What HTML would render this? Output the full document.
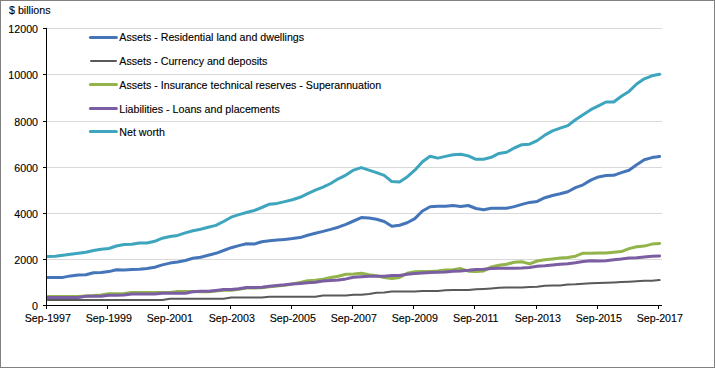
<!DOCTYPE html>
<html><head><meta charset="utf-8"><style>html,body{margin:0;padding:0;background:#fff;width:715px;height:368px;overflow:hidden}</style></head>
<body><svg width="715" height="368" viewBox="0 0 715 368" style="display:block"><rect x="0" y="0" width="715" height="368" fill="#fff"/><rect x="0.5" y="0.5" width="714" height="367" fill="none" stroke="#808080" stroke-width="1"/><line x1="47" y1="28.5" x2="662" y2="28.5" stroke="#d9d9d9" stroke-width="1"/><line x1="47" y1="74.5" x2="662" y2="74.5" stroke="#d9d9d9" stroke-width="1"/><line x1="47" y1="121.5" x2="662" y2="121.5" stroke="#d9d9d9" stroke-width="1"/><line x1="47" y1="167.5" x2="662" y2="167.5" stroke="#d9d9d9" stroke-width="1"/><line x1="47" y1="213.5" x2="662" y2="213.5" stroke="#d9d9d9" stroke-width="1"/><line x1="47" y1="259.5" x2="662" y2="259.5" stroke="#d9d9d9" stroke-width="1"/><defs><clipPath id="pa"><rect x="47" y="0" width="620" height="306"/></clipPath></defs><g clip-path="url(#pa)"><path d="M47.60,277.50 L55.25,277.50 L62.90,277.40 L70.55,275.90 L78.20,275.00 L85.85,274.80 L93.50,272.80 L101.15,272.50 L108.80,271.60 L116.45,269.70 L124.10,270.00 L131.75,269.50 L139.40,269.30 L147.05,268.40 L154.70,267.20 L162.35,264.90 L170.00,263.10 L177.65,262.00 L185.30,260.50 L192.95,258.30 L200.60,257.20 L208.25,255.30 L215.90,253.30 L223.55,250.50 L231.20,247.70 L238.85,245.60 L246.50,243.70 L254.15,244.10 L261.80,241.80 L269.45,240.70 L277.10,240.10 L284.75,239.40 L292.40,238.60 L300.05,237.60 L307.70,235.20 L315.35,233.20 L323.00,231.40 L330.65,229.40 L338.30,227.20 L345.95,224.30 L353.60,221.00 L361.25,217.60 L368.90,218.10 L376.55,219.30 L384.20,221.50 L391.85,226.20 L399.50,225.30 L407.15,222.80 L414.80,218.60 L422.45,211.00 L430.10,206.80 L437.75,206.30 L445.40,206.30 L453.05,205.50 L460.70,206.50 L468.35,205.50 L476.00,208.50 L483.65,209.70 L491.30,208.20 L498.95,208.20 L506.60,208.30 L514.25,206.60 L521.90,204.40 L529.55,202.40 L537.20,201.40 L544.85,197.70 L552.50,195.50 L560.15,193.80 L567.80,191.80 L575.45,187.60 L583.10,184.80 L590.75,180.10 L598.40,176.90 L606.05,175.50 L613.70,175.30 L621.35,172.60 L629.00,170.20 L636.65,164.80 L644.30,159.80 L651.95,157.60 L659.60,156.40" fill="none" stroke="#4575b9" stroke-width="3" stroke-linejoin="round" stroke-linecap="round"/><path d="M47.60,300.00 L55.25,300.00 L62.90,300.00 L70.55,300.00 L78.20,300.00 L85.85,300.00 L93.50,300.00 L101.15,300.00 L108.80,300.00 L116.45,300.00 L124.10,300.00 L131.75,300.00 L139.40,300.00 L147.05,300.00 L154.70,300.00 L162.35,300.00 L170.00,298.70 L177.65,298.70 L185.30,298.70 L192.95,298.70 L200.60,298.70 L208.25,298.70 L215.90,298.70 L223.55,298.70 L231.20,297.60 L238.85,297.60 L246.50,297.60 L254.15,297.60 L261.80,297.60 L269.45,296.70 L277.10,296.70 L284.75,296.70 L292.40,296.70 L300.05,296.70 L307.70,296.70 L315.35,296.70 L323.00,295.60 L330.65,295.60 L338.30,295.60 L345.95,295.60 L353.60,294.80 L361.25,294.80 L368.90,293.90 L376.55,292.80 L384.20,292.40 L391.85,291.60 L399.50,291.60 L407.15,291.60 L414.80,291.40 L422.45,290.90 L430.10,290.90 L437.75,291.00 L445.40,290.20 L453.05,289.90 L460.70,289.90 L468.35,289.90 L476.00,289.30 L483.65,288.90 L491.30,288.40 L498.95,287.80 L506.60,287.50 L514.25,287.50 L521.90,287.60 L529.55,286.90 L537.20,286.70 L544.85,285.70 L552.50,285.50 L560.15,285.50 L567.80,284.50 L575.45,284.30 L583.10,283.70 L590.75,283.30 L598.40,283.00 L606.05,282.80 L613.70,282.50 L621.35,282.10 L629.00,281.70 L636.65,281.20 L644.30,280.80 L651.95,280.80 L659.60,280.10" fill="none" stroke="#595959" stroke-width="2" stroke-linejoin="round" stroke-linecap="round"/><path d="M47.60,296.60 L55.25,296.60 L62.90,296.60 L70.55,296.60 L78.20,296.60 L85.85,295.90 L93.50,295.50 L101.15,294.90 L108.80,293.80 L116.45,293.80 L124.10,293.50 L131.75,292.40 L139.40,292.40 L147.05,292.40 L154.70,292.40 L162.35,292.40 L170.00,292.40 L177.65,291.50 L185.30,291.50 L192.95,291.50 L200.60,291.80 L208.25,291.80 L215.90,291.00 L223.55,290.20 L231.20,290.20 L238.85,289.30 L246.50,288.00 L254.15,288.00 L261.80,287.80 L269.45,286.80 L277.10,286.10 L284.75,285.20 L292.40,283.90 L300.05,282.40 L307.70,280.80 L315.35,280.30 L323.00,279.20 L330.65,277.40 L338.30,276.30 L345.95,274.20 L353.60,274.00 L361.25,273.30 L368.90,274.80 L376.55,275.80 L384.20,277.50 L391.85,278.60 L399.50,277.50 L407.15,273.20 L414.80,271.80 L422.45,271.50 L430.10,271.50 L437.75,270.90 L445.40,270.10 L453.05,269.70 L460.70,268.60 L468.35,271.20 L476.00,271.60 L483.65,270.90 L491.30,266.90 L498.95,265.30 L506.60,264.20 L514.25,262.30 L521.90,261.80 L529.55,263.90 L537.20,261.00 L544.85,259.80 L552.50,258.90 L560.15,258.00 L567.80,257.40 L575.45,256.20 L583.10,253.20 L590.75,253.20 L598.40,253.10 L606.05,252.90 L613.70,252.30 L621.35,251.60 L629.00,248.60 L636.65,246.80 L644.30,246.10 L651.95,244.10 L659.60,243.40" fill="none" stroke="#92b44a" stroke-width="3" stroke-linejoin="round" stroke-linecap="round"/><path d="M47.60,297.60 L55.25,297.60 L62.90,297.60 L70.55,297.60 L78.20,297.60 L85.85,296.30 L93.50,296.30 L101.15,296.30 L108.80,295.20 L116.45,295.20 L124.10,294.90 L131.75,294.10 L139.40,294.10 L147.05,294.10 L154.70,294.10 L162.35,293.30 L170.00,293.30 L177.65,293.30 L185.30,293.30 L192.95,291.80 L200.60,291.20 L208.25,291.20 L215.90,290.40 L223.55,289.60 L231.20,289.60 L238.85,288.70 L246.50,287.40 L254.15,287.40 L261.80,287.20 L269.45,286.20 L277.10,285.50 L284.75,284.80 L292.40,283.90 L300.05,283.40 L307.70,282.80 L315.35,282.20 L323.00,281.10 L330.65,280.50 L338.30,280.00 L345.95,278.90 L353.60,277.20 L361.25,276.80 L368.90,276.30 L376.55,276.30 L384.20,276.30 L391.85,275.60 L399.50,275.40 L407.15,274.30 L414.80,273.40 L422.45,273.00 L430.10,272.60 L437.75,272.30 L445.40,272.00 L453.05,271.20 L460.70,270.90 L468.35,270.30 L476.00,269.40 L483.65,269.20 L491.30,268.60 L498.95,268.30 L506.60,268.30 L514.25,268.30 L521.90,268.10 L529.55,267.50 L537.20,266.30 L544.85,265.70 L552.50,264.90 L560.15,264.20 L567.80,263.70 L575.45,262.70 L583.10,261.50 L590.75,260.80 L598.40,260.90 L606.05,260.80 L613.70,259.70 L621.35,259.10 L629.00,258.10 L636.65,257.70 L644.30,257.00 L651.95,256.30 L659.60,255.90" fill="none" stroke="#7a5da3" stroke-width="3" stroke-linejoin="round" stroke-linecap="round"/><path d="M47.60,256.40 L55.25,256.20 L62.90,255.20 L70.55,254.20 L78.20,253.20 L85.85,252.20 L93.50,250.50 L101.15,249.30 L108.80,248.50 L116.45,246.00 L124.10,244.60 L131.75,244.30 L139.40,243.00 L147.05,243.00 L154.70,241.30 L162.35,238.20 L170.00,236.50 L177.65,235.40 L185.30,232.90 L192.95,230.70 L200.60,229.30 L208.25,227.30 L215.90,225.40 L223.55,221.50 L231.20,217.20 L238.85,214.60 L246.50,212.50 L254.15,210.50 L261.80,207.50 L269.45,204.20 L277.10,203.40 L284.75,201.60 L292.40,199.80 L300.05,197.30 L307.70,193.60 L315.35,190.20 L323.00,187.20 L330.65,183.50 L338.30,178.80 L345.95,175.10 L353.60,170.10 L361.25,167.60 L368.90,170.10 L376.55,172.60 L384.20,175.40 L391.85,181.60 L399.50,182.00 L407.15,176.90 L414.80,170.20 L422.45,161.80 L430.10,156.30 L437.75,158.10 L445.40,156.40 L453.05,154.80 L460.70,154.30 L468.35,155.90 L476.00,159.30 L483.65,159.30 L491.30,157.30 L498.95,153.40 L506.60,152.30 L514.25,148.00 L521.90,144.70 L529.55,144.20 L537.20,140.60 L544.85,135.10 L552.50,130.90 L560.15,128.20 L567.80,125.60 L575.45,119.70 L583.10,114.80 L590.75,109.70 L598.40,105.80 L606.05,102.00 L613.70,102.00 L621.35,96.30 L629.00,91.40 L636.65,84.00 L644.30,78.80 L651.95,75.80 L659.60,74.30" fill="none" stroke="#3da5bd" stroke-width="3" stroke-linejoin="round" stroke-linecap="round"/></g><line x1="46.5" y1="28" x2="46.5" y2="309" stroke="#000" stroke-width="1"/><line x1="43" y1="28.5" x2="46" y2="28.5" stroke="#000" stroke-width="1"/><line x1="43" y1="74.5" x2="46" y2="74.5" stroke="#000" stroke-width="1"/><line x1="43" y1="121.5" x2="46" y2="121.5" stroke="#000" stroke-width="1"/><line x1="43" y1="167.5" x2="46" y2="167.5" stroke="#000" stroke-width="1"/><line x1="43" y1="213.5" x2="46" y2="213.5" stroke="#000" stroke-width="1"/><line x1="43" y1="259.5" x2="46" y2="259.5" stroke="#000" stroke-width="1"/><line x1="43" y1="305.5" x2="46" y2="305.5" stroke="#000" stroke-width="1"/><line x1="46" y1="305.5" x2="662" y2="305.5" stroke="#000" stroke-width="1"/><line x1="46.5" y1="306" x2="46.5" y2="309" stroke="#000" stroke-width="1"/><line x1="107.5" y1="306" x2="107.5" y2="309" stroke="#000" stroke-width="1"/><line x1="168.5" y1="306" x2="168.5" y2="309" stroke="#000" stroke-width="1"/><line x1="230.5" y1="306" x2="230.5" y2="309" stroke="#000" stroke-width="1"/><line x1="291.5" y1="306" x2="291.5" y2="309" stroke="#000" stroke-width="1"/><line x1="352.5" y1="306" x2="352.5" y2="309" stroke="#000" stroke-width="1"/><line x1="413.5" y1="306" x2="413.5" y2="309" stroke="#000" stroke-width="1"/><line x1="474.5" y1="306" x2="474.5" y2="309" stroke="#000" stroke-width="1"/><line x1="536.5" y1="306" x2="536.5" y2="309" stroke="#000" stroke-width="1"/><line x1="597.5" y1="306" x2="597.5" y2="309" stroke="#000" stroke-width="1"/><line x1="658.5" y1="306" x2="658.5" y2="309" stroke="#000" stroke-width="1"/><text x="38" y="32.80" font-family="Liberation Sans, sans-serif" font-size="10.67" text-anchor="end" fill="#000" stroke="#000" stroke-width="0.12">12000</text><text x="38" y="78.80" font-family="Liberation Sans, sans-serif" font-size="10.67" text-anchor="end" fill="#000" stroke="#000" stroke-width="0.12">10000</text><text x="38" y="125.80" font-family="Liberation Sans, sans-serif" font-size="10.67" text-anchor="end" fill="#000" stroke="#000" stroke-width="0.12">8000</text><text x="38" y="171.80" font-family="Liberation Sans, sans-serif" font-size="10.67" text-anchor="end" fill="#000" stroke="#000" stroke-width="0.12">6000</text><text x="38" y="217.80" font-family="Liberation Sans, sans-serif" font-size="10.67" text-anchor="end" fill="#000" stroke="#000" stroke-width="0.12">4000</text><text x="38" y="263.80" font-family="Liberation Sans, sans-serif" font-size="10.67" text-anchor="end" fill="#000" stroke="#000" stroke-width="0.12">2000</text><text x="38" y="309.80" font-family="Liberation Sans, sans-serif" font-size="10.67" text-anchor="end" fill="#000" stroke="#000" stroke-width="0.12">0</text><text x="47.80" y="321.7" font-family="Liberation Sans, sans-serif" font-size="10.67" text-anchor="middle" fill="#000" stroke="#000" stroke-width="0.12">Sep-1997</text><text x="108.80" y="321.7" font-family="Liberation Sans, sans-serif" font-size="10.67" text-anchor="middle" fill="#000" stroke="#000" stroke-width="0.12">Sep-1999</text><text x="169.80" y="321.7" font-family="Liberation Sans, sans-serif" font-size="10.67" text-anchor="middle" fill="#000" stroke="#000" stroke-width="0.12">Sep-2001</text><text x="231.80" y="321.7" font-family="Liberation Sans, sans-serif" font-size="10.67" text-anchor="middle" fill="#000" stroke="#000" stroke-width="0.12">Sep-2003</text><text x="292.80" y="321.7" font-family="Liberation Sans, sans-serif" font-size="10.67" text-anchor="middle" fill="#000" stroke="#000" stroke-width="0.12">Sep-2005</text><text x="353.80" y="321.7" font-family="Liberation Sans, sans-serif" font-size="10.67" text-anchor="middle" fill="#000" stroke="#000" stroke-width="0.12">Sep-2007</text><text x="414.80" y="321.7" font-family="Liberation Sans, sans-serif" font-size="10.67" text-anchor="middle" fill="#000" stroke="#000" stroke-width="0.12">Sep-2009</text><text x="475.80" y="321.7" font-family="Liberation Sans, sans-serif" font-size="10.67" text-anchor="middle" fill="#000" stroke="#000" stroke-width="0.12">Sep-2011</text><text x="537.80" y="321.7" font-family="Liberation Sans, sans-serif" font-size="10.67" text-anchor="middle" fill="#000" stroke="#000" stroke-width="0.12">Sep-2013</text><text x="598.80" y="321.7" font-family="Liberation Sans, sans-serif" font-size="10.67" text-anchor="middle" fill="#000" stroke="#000" stroke-width="0.12">Sep-2015</text><text x="659.80" y="321.7" font-family="Liberation Sans, sans-serif" font-size="10.67" text-anchor="middle" fill="#000" stroke="#000" stroke-width="0.12">Sep-2017</text><text x="9" y="13.8" font-family="Liberation Sans, sans-serif" font-size="10.67" fill="#000" stroke="#000" stroke-width="0.12">$ billions</text><line x1="90.4" y1="37.50" x2="116.4" y2="37.50" stroke="#4575b9" stroke-width="3" stroke-linecap="round"/><text x="119.3" y="41.20" font-family="Liberation Sans, sans-serif" font-size="10.67" fill="#000" stroke="#000" stroke-width="0.12">Assets - Residential land and dwellings</text><line x1="91" y1="61.00" x2="116" y2="61.00" stroke="#595959" stroke-width="2" stroke-linecap="round"/><text x="119.3" y="65.00" font-family="Liberation Sans, sans-serif" font-size="10.67" fill="#000" stroke="#000" stroke-width="0.12">Assets - Currency and deposits</text><line x1="90.4" y1="84.50" x2="116.4" y2="84.50" stroke="#92b44a" stroke-width="3" stroke-linecap="round"/><text x="119.3" y="88.80" font-family="Liberation Sans, sans-serif" font-size="10.67" fill="#000" stroke="#000" stroke-width="0.12">Assets - Insurance technical reserves - Superannuation</text><line x1="90.4" y1="108.50" x2="116.4" y2="108.50" stroke="#7a5da3" stroke-width="3" stroke-linecap="round"/><text x="119.3" y="112.60" font-family="Liberation Sans, sans-serif" font-size="10.67" fill="#000" stroke="#000" stroke-width="0.12">Liabilities - Loans and placements</text><line x1="90.4" y1="131.50" x2="116.4" y2="131.50" stroke="#3da5bd" stroke-width="3" stroke-linecap="round"/><text x="119.3" y="136.40" font-family="Liberation Sans, sans-serif" font-size="10.67" fill="#000" stroke="#000" stroke-width="0.12">Net worth</text></svg></body></html>
